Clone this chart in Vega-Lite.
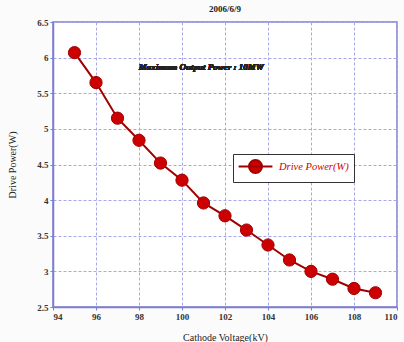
{
  "$schema": "https://vega.github.io/schema/vega-lite/v6.json",
  "width": 344,
  "height": 285,
  "autosize": "none",
  "padding": {"left": 53, "top": 22, "right": 7, "bottom": 35},
  "background": "#fbfbfb",
  "title": {"text": "2006/6/9", "font": "Liberation Serif", "fontSize": 9, "fontWeight": "bold", "color": "#222", "offset": 4, "anchor": "middle"},
  "config": {
    "view": {"stroke": "#7d7dd0", "strokeWidth": 1.5, "fill": "white"},
    "axis": {
      "labelFont": "Liberation Serif", "labelFontSize": 9, "labelFontWeight": "bold", "labelColor": "#333",
      "titleFont": "Liberation Serif", "titleFontSize": 10, "titleFontWeight": "normal", "titleColor": "#222",
      "domainColor": "#7d7dd0", "domainWidth": 1.5, "tickColor": "#7d7dd0", "tickSize": 3,
      "gridColor": "#a8a8e8", "gridDash": [3, 2], "gridWidth": 1
    }
  },
  "data": {"values": [
    {"voltage": 95, "power": 6.07, "series": "Drive Power(W)"},
    {"voltage": 96, "power": 5.65, "series": "Drive Power(W)"},
    {"voltage": 97, "power": 5.15, "series": "Drive Power(W)"},
    {"voltage": 98, "power": 4.84, "series": "Drive Power(W)"},
    {"voltage": 99, "power": 4.52, "series": "Drive Power(W)"},
    {"voltage": 100, "power": 4.28, "series": "Drive Power(W)"},
    {"voltage": 101, "power": 3.96, "series": "Drive Power(W)"},
    {"voltage": 102, "power": 3.78, "series": "Drive Power(W)"},
    {"voltage": 103, "power": 3.58, "series": "Drive Power(W)"},
    {"voltage": 104, "power": 3.37, "series": "Drive Power(W)"},
    {"voltage": 105, "power": 3.16, "series": "Drive Power(W)"},
    {"voltage": 106, "power": 3.0, "series": "Drive Power(W)"},
    {"voltage": 107, "power": 2.89, "series": "Drive Power(W)"},
    {"voltage": 108, "power": 2.76, "series": "Drive Power(W)"},
    {"voltage": 109, "power": 2.7, "series": "Drive Power(W)"}
  ]},
  "encoding": {
    "x": {"field": "voltage", "type": "quantitative", "title": "Cathode Voltage(kV)",
      "scale": {"domain": [94, 110], "nice": false},
      "axis": {"values": [94, 96, 98, 100, 102, 104, 106, 108, 110], "titlePadding": 11, "labelPadding": 2}},
    "y": {"field": "power", "type": "quantitative", "title": "Drive Power(W)",
      "scale": {"domain": [2.5, 6.5], "nice": false, "zero": false},
      "axis": {"values": [2.5, 3, 3.5, 4, 4.5, 5, 5.5, 6, 6.5], "labelExpr": "datum.value + ''", "titlePadding": 19, "labelPadding": 2}}
  },
  "layer": [
    {"mark": {"type": "line", "color": "#a00000", "strokeWidth": 2}},
    {"mark": {"type": "point", "filled": true, "size": 150, "opacity": 1, "stroke": "#a00000", "strokeWidth": 1},
     "encoding": {
       "color": {"field": "series", "type": "nominal", "scale": {"range": ["#cc0000"]},
         "legend": {"title": null, "orient": "none", "legendX": 180, "legendY": 132,
           "fillColor": "white", "strokeColor": "#333", "padding": 5,
           "symbolType": "M-2.6,0L2.6,0M-1,0A1,1,0,1,1,1,0A1,1,0,1,1,-1,0Z",
           "symbolSize": 169, "symbolOffset": 10, "symbolStrokeColor": "#a00000", "symbolStrokeWidth": 2, "symbolOpacity": 1,
           "labelFont": "Liberation Serif", "labelFontSize": 10.5, "labelFontStyle": "italic", "labelColor": "#cc0000", "labelOffset": 16,
           "labelExpr": "datum.label + '          '"}}
     }},
    {"mark": {"type": "text", "font": "Liberation Serif", "fontSize": 9, "fontStyle": "italic", "fontWeight": "bold", "color": "#222", "align": "center", "baseline": "middle"},
     "encoding": {
       "x": {"datum": 100.9},
       "y": {"datum": 5.87},
       "text": {"value": "Maximum Output Power : 10MW"}
     }}
  ]
}
